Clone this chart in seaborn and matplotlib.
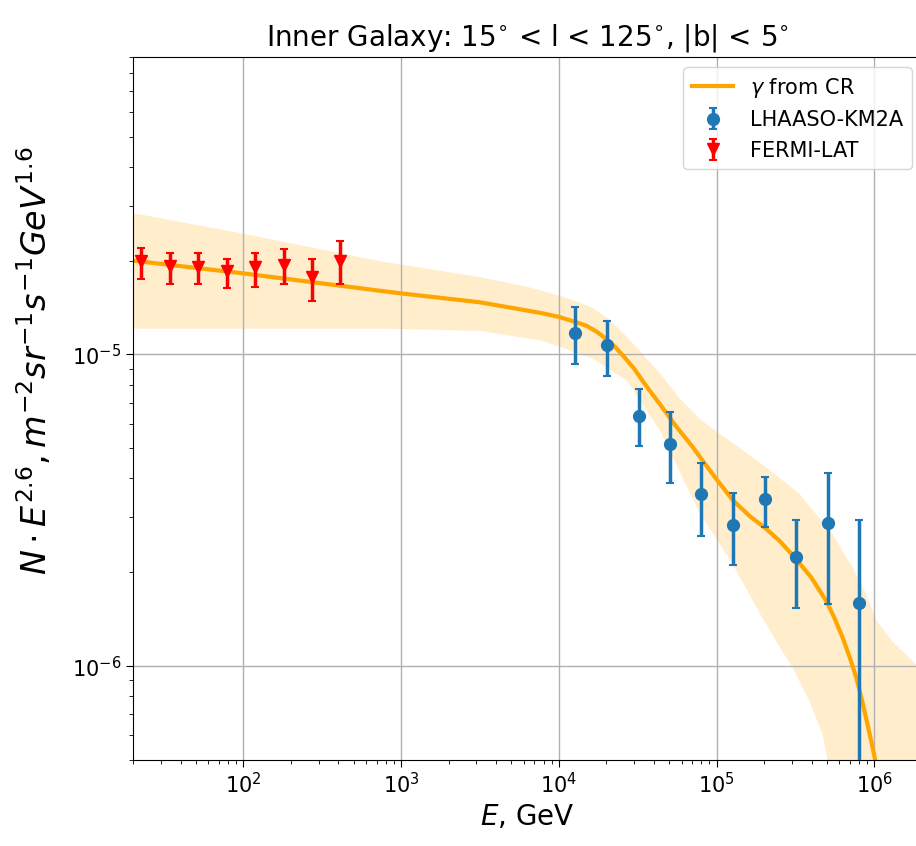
import numpy as np
import matplotlib
matplotlib.use("Agg")
import matplotlib.pyplot as plt
import seaborn as sns

# -----------------------------
# data
# -----------------------------
# gamma-ray model from cosmic rays (central curve)
cr_energy = [20, 100, 740, 1.0e3, 3.16e3, 7.6e3, 1.0e4, 1.28e4, 1.5e4, 1.75e4,
             2.0e4, 2.3e4, 2.6e4, 3.0e4, 3.35e4, 3.8e4, 4.3e4, 5.5e4, 7.0e4,
             8.0e4, 1.0e5, 1.27e5, 1.62e5, 2.07e5, 2.51e5, 3.2e5, 3.99e5,
             4.94e5, 5.6e5, 6.3e5, 7.0e5, 7.66e5, 8.3e5, 8.85e5, 9.5e5, 1.01e6]
cr_flux = [2.0e-5, 1.82e-5, 1.60e-5, 1.57e-5, 1.47e-5, 1.36e-5, 1.32e-5, 1.27e-5,
           1.235e-5, 1.18e-5, 1.12e-5, 1.05e-5, 9.8e-6, 9.0e-6, 8.3e-6, 7.6e-6,
           7.0e-6, 5.9e-6, 5.07e-6, 4.62e-6, 3.97e-6, 3.40e-6, 3.03e-6, 2.75e-6,
           2.52e-6, 2.2e-6, 1.92e-6, 1.62e-6, 1.42e-6, 1.23e-6, 1.06e-6, 9.2e-7,
           7.85e-7, 6.8e-7, 5.8e-7, 5.0e-7]

# uncertainty band edges
band_up_energy = [20, 100, 740, 3.16e3, 6.55e3, 1.06e4, 1.3e4, 1.64e4, 2.1e4,
                  2.69e4, 3.4e4, 4.36e4, 5.83e4, 7.8e4, 1.0e5, 1.26e5, 2.07e5,
                  3.35e5, 5.42e5, 7.26e5, 8.4e5, 1.03e6, 1.3e6, 2.0e6]
band_up_flux = [2.84e-5, 2.44e-5, 1.99e-5, 1.77e-5, 1.64e-5, 1.53e-5, 1.48e-5,
                1.41e-5, 1.29e-5, 1.14e-5, 1.0e-5, 8.7e-6, 7.22e-6, 6.22e-6,
                5.65e-6, 5.21e-6, 4.33e-6, 3.57e-6, 2.65e-6, 2.07e-6, 1.81e-6,
                1.40e-6, 1.20e-6, 9.7e-7]
band_lo_energy = [20, 100, 800, 3.16e3, 7.6e3, 1.0e4, 1.64e4, 2.69e4, 4.36e4,
                  7.8e4, 1.26e5, 1.87e5, 2.51e5, 3.03e5, 3.88e5, 4.69e5,
                  5.05e5, 5.6e5, 2.0e6]
band_lo_flux = [1.21e-5, 1.21e-5, 1.21e-5, 1.19e-5, 1.11e-5, 1.06e-5, 9.7e-6,
                8.25e-6, 5.7e-6, 3.10e-6, 2.13e-6, 1.48e-6, 1.15e-6,
                9.9e-7, 7.7e-7, 6.04e-7, 4.96e-7, 3.5e-7, 1.0e-7]

# LHAASO-KM2A
lhaaso_energy = [1.27e4, 2.02e4, 3.2e4, 5.05e4, 8.0e4, 1.27e5, 2.02e5, 3.2e5, 5.05e5, 8.0e5]
lhaaso_flux = [1.175e-5, 1.075e-5, 6.37e-6, 5.16e-6, 3.57e-6, 2.83e-6, 3.43e-6,
               2.24e-6, 2.87e-6, 1.59e-6]
lhaaso_hi = [1.42e-5, 1.28e-5, 7.72e-6, 6.52e-6, 4.49e-6, 3.59e-6, 4.05e-6,
             2.94e-6, 4.17e-6, 2.94e-6]
lhaaso_lo = [9.3e-6, 8.5e-6, 5.1e-6, 3.86e-6, 2.62e-6, 2.11e-6, 2.80e-6,
             1.54e-6, 1.58e-6, 2.4e-7]

# FERMI-LAT
fermi_energy = [22.6, 34.2, 52, 79, 119, 181, 272, 411]
fermi_flux = [1.99e-5, 1.92e-5, 1.905e-5, 1.85e-5, 1.905e-5, 1.93e-5, 1.77e-5, 1.99e-5]
fermi_hi = [2.20e-5, 2.11e-5, 2.11e-5, 2.03e-5, 2.11e-5, 2.18e-5, 2.02e-5, 2.31e-5]
fermi_lo = [1.74e-5, 1.68e-5, 1.68e-5, 1.63e-5, 1.645e-5, 1.68e-5, 1.48e-5, 1.68e-5]

# -----------------------------
# figure
# -----------------------------
fig = plt.figure(figsize=(9.16, 8.46), dpi=100)
ax = fig.add_axes([133 / 916, 86 / 846, 789 / 916, 703 / 846])
ax.set_xscale("log")
ax.set_yscale("log")

# band as one polygon: upper edge left->right, lower edge right->left
poly_x = list(band_up_energy) + list(band_lo_energy[::-1])
poly_y = list(band_up_flux) + list(band_lo_flux[::-1])
ax.fill(poly_x, poly_y, color="orange", alpha=0.2, lw=0, zorder=1)

sns.lineplot(x=cr_energy, y=cr_flux, ax=ax, color="orange", lw=3,
             label=r"$\gamma$ from CR", zorder=2)

lh = np.array(lhaaso_flux)
lh_err = [lh - np.array(lhaaso_lo), np.array(lhaaso_hi) - lh]
eb1 = ax.errorbar(lhaaso_energy, lhaaso_flux, yerr=lh_err, fmt="o",
                  color="#1f77b4", ms=8.5, elinewidth=2.5, capsize=3,
                  capthick=1.5, label="LHAASO-KM2A", zorder=3)

fe = np.array(fermi_flux)
fe_err = [fe - np.array(fermi_lo), np.array(fermi_hi) - fe]
eb2 = ax.errorbar(fermi_energy, fermi_flux, yerr=fe_err, fmt="v",
                  color="red", ms=8, elinewidth=2.5, capsize=3,
                  capthick=1.5, label="FERMI-LAT", zorder=3)

# -------------------------
# axes appearance
# -------------------------
ax.set_xlim(20, 2e6)
ax.set_ylim(5e-7, 9e-5)
ax.grid(True, which="major", color="#b0b0b0", lw=1)
ax.tick_params(axis="both", which="major", labelsize=15, length=5)
ax.tick_params(axis="both", which="minor", length=3)

ax.set_title(r"Inner Galaxy: 15$^{\circ}$ < l < 125$^{\circ}$, |b| < 5$^{\circ}$",
             fontsize=20, pad=8)
ax.set_xlabel(r"$E$, GeV", fontsize=20)
ax.set_ylabel(r"$N \cdot E^{2.6}, m^{-2}sr^{-1}s^{-1}GeV^{1.6}$", fontsize=24)
ax.yaxis.set_label_coords(-0.1, 0.568)

handles, labels = ax.get_legend_handles_labels()
ax.legend([handles[0], eb1, eb2], [labels[0], "LHAASO-KM2A", "FERMI-LAT"],
          loc="upper right", fontsize=15)

fig.savefig("out.png", dpi=100, facecolor="white")
